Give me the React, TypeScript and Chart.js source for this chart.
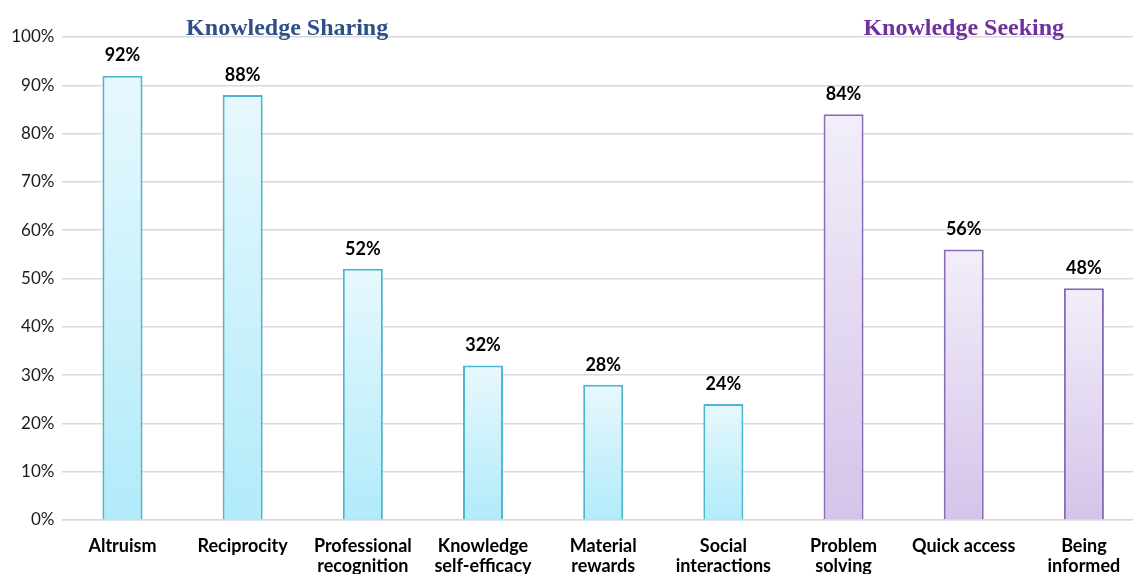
import React, { useEffect, useRef } from "react";
import { Chart, registerables } from "chart.js";

Chart.register(...registerables);

const categories: string[][] = [
  ["Altruism"],
  ["Reciprocity"],
  ["Professional", "recognition"],
  ["Knowledge", "self-efficacy"],
  ["Material", "rewards"],
  ["Social", "interactions"],
  ["Problem", "solving"],
  ["Quick access"],
  ["Being", "informed"],
];
const values: number[] = [92, 88, 52, 32, 28, 24, 84, 56, 48];
const groups: string[] = ["share", "share", "share", "share", "share", "share", "seek", "seek", "seek"];
const yTicks: number[] = [0, 10, 20, 30, 40, 50, 60, 70, 80, 90, 100];
const groupTitles = [
  { text: "Knowledge Sharing", at: 1.37, color: "#2E5087" },
  { text: "Knowledge Seeking", at: 7.0, color: "#7030A0" },
];

const palette: Record<string, { top: string; bottom: string; border: string }> = {
  share: { top: "#E7F8FD", bottom: "#B1EBFA", border: "#4FB5CF" },
  seek: { top: "#F2EEF9", bottom: "#D4C4EA", border: "#8A6CB4" },
};

const FONT = "Lato, 'Open Sans', sans-serif";

const overlayPlugin = {
  id: "overlay",
  afterDatasetsDraw(chart: any) {
    const { ctx, scales } = chart;
    const x = scales.x;
    const y = scales.y;
    ctx.save();
    ctx.textAlign = "center";
    ctx.textBaseline = "middle";
    ctx.fillStyle = "#000000";
    ctx.font = `bold 18px ${FONT}`;
    values.forEach((v, i) => {
      ctx.fillText(`${v}%`, x.getPixelForValue(i), y.getPixelForValue(v) - 20);
    });
    ctx.font = "bold 24px 'Liberation Serif', 'Times New Roman', serif";
    groupTitles.forEach((t) => {
      ctx.fillStyle = t.color;
      ctx.fillText(t.text, x.getPixelForValue(t.at), 29);
    });
    ctx.restore();
  },
};

export default function App() {
  const ref = useRef<HTMLCanvasElement | null>(null);
  useEffect(() => {
    if (!ref.current) return;
    const chart = new Chart(ref.current, {
      type: "bar",
      data: {
        labels: categories,
        datasets: [
          {
            data: values,
            backgroundColor: (c: any) => {
              const chart = c.chart;
              const p = palette[groups[c.dataIndex]];
              if (!chart.chartArea || c.dataIndex === undefined) return p.bottom;
              const ys = chart.scales.y;
              const top = ys.getPixelForValue(values[c.dataIndex]);
              const bottom = ys.getPixelForValue(0);
              const g = chart.ctx.createLinearGradient(0, top, 0, bottom);
              g.addColorStop(0, p.top);
              g.addColorStop(1, p.bottom);
              return g;
            },
            borderColor: groups.map((g) => palette[g].border),
            borderWidth: 2,
            barPercentage: 0.333,
            categoryPercentage: 1,
          },
        ],
      },
      options: {
        animation: false,
        responsive: false,
        layout: { padding: { top: 37, right: 2, left: 0, bottom: 0 } },
        plugins: { legend: { display: false }, tooltip: { enabled: false } },
        scales: {
          x: {
            grid: { display: false, drawTicks: false },
            border: { display: true, color: "#D9D9D9", width: 1.5 },
            ticks: {
              font: { family: FONT, size: 18, weight: "bold", lineHeight: 1.12 },
              color: "#000000",
              padding: 16,
              maxRotation: 0,
              autoSkip: false,
            },
            afterFit: (s: any) => {
              s.height = 80;
            },
          },
          y: {
            min: 0,
            max: 100,
            afterBuildTicks: (s: any) => {
              s.ticks = yTicks.map((v) => ({ value: v }));
            },
            grid: { color: "#D9D9D9", lineWidth: 1.5, drawTicks: false },
            border: { display: false },
            ticks: {
              callback: (v: any) => `${v}%`,
              font: { family: FONT, size: 17 },
              color: "#1A1A1A",
              padding: 8,
            },
            afterFit: (s: any) => {
              s.width = 62.4;
            },
          },
        },
      },
      plugins: [overlayPlugin],
    });
    return () => chart.destroy();
  }, []);
  return (
    <div
      style={{
        position: "fixed",
        left: 0,
        top: 0,
        width: 1133,
        height: 574,
        overflow: "hidden",
        background: "#ffffff",
      }}
    >
      <canvas ref={ref} width={1146} height={600} style={{ display: "block" }} />
    </div>
  );
}
